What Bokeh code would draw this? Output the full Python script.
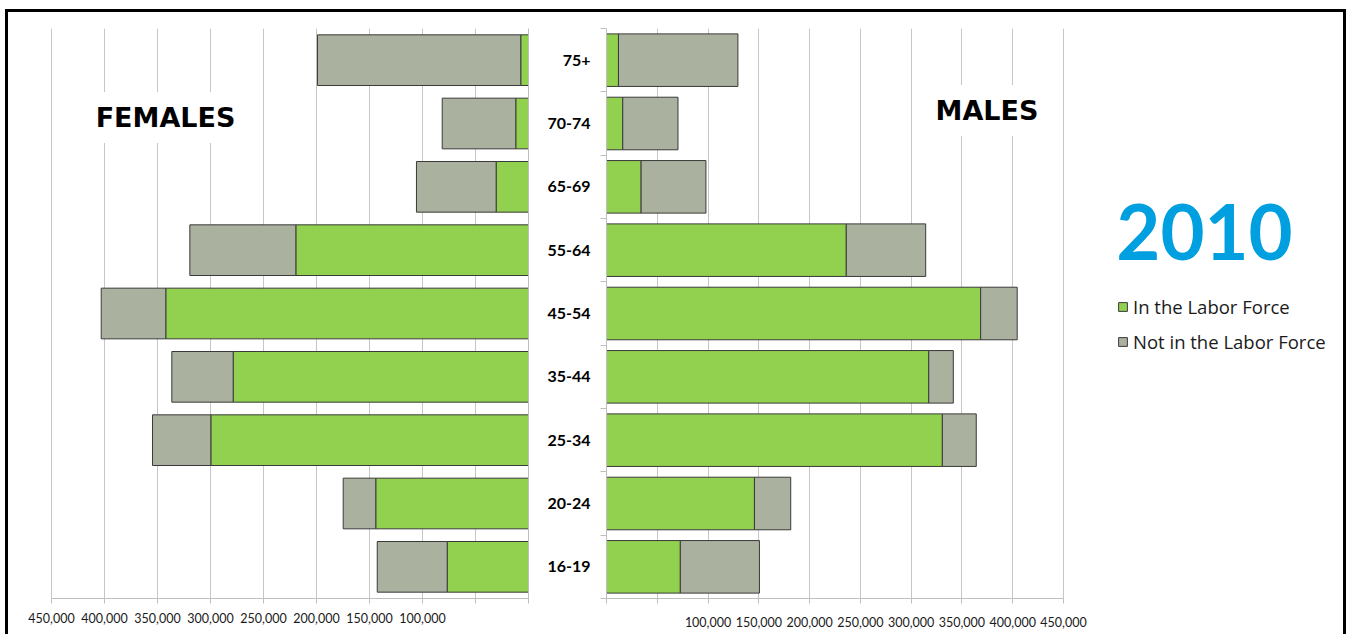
from bokeh.plotting import figure
from bokeh.layouts import row
from bokeh.models import ColumnDataSource, Range1d, FixedTicker, Label
from bokeh.embed import file_html
from bokeh.resources import INLINE

# Population 16+ by age group and labor-force status, 2010
age_groups = ["16-19", "20-24", "25-34", "35-44", "45-54", "55-64", "65-69", "70-74", "75+"]
female_in_lf = [76700, 144100, 299700, 278600, 342200, 219500, 30500, 12000, 7300]
female_not_lf = [66000, 30700, 55000, 57900, 60900, 100000, 75200, 69400, 191800]
male_in_lf = [72700, 145700, 330700, 317300, 368400, 236100, 34100, 16000, 11800]
male_not_lf = [77900, 35700, 33400, 24200, 36000, 78200, 63800, 54400, 117600]

tick_values = [0, 50000, 100000, 150000, 200000, 250000, 300000, 350000, 400000, 450000]
tick_labels = ["", "", "100,000", "150,000", "200,000", "250,000", "300,000",
               "350,000", "400,000", "450,000"]
series_names = ["In the Labor Force", "Not in the Labor Force"]
year_text = "2010"

GREEN = "#92D050"
GREY = "#AAB19E"
EDGE = "#3A3A3A"
RULE = "#BFBFBF"
GRID = "#C6C6C6"
FONT = "Lato"
HEAD_FONT = "DejaVu Sans"
LEGEND_FONT = "Open Sans"

rows = list(range(1, len(age_groups) + 1))
row_edges = [r - 0.5 for r in rows] + [rows[-1] + 0.5]
y_span = (row_edges[0], row_edges[-1])
x_max = tick_values[-1]

fsrc = ColumnDataSource(dict(row=rows, age=age_groups, inlf=female_in_lf, notlf=female_not_lf))
msrc = ColumnDataSource(dict(row=rows, age=age_groups, inlf=male_in_lf, notlf=male_not_lf))


def style_value_axis(ax, standoff):
    ax.ticker = FixedTicker(ticks=tick_values)
    ax.major_label_overrides = dict(zip(tick_values, tick_labels))
    ax.bounds = (0, x_max)
    ax.major_tick_out = 5
    ax.major_tick_in = 0
    ax.minor_tick_line_color = None
    ax.axis_line_color = RULE
    ax.major_tick_line_color = RULE
    ax.major_label_text_font = FONT
    ax.major_label_text_font_size = "12.5px"
    ax.major_label_text_color = "#1a1a1a"
    ax.major_label_standoff = standoff


# ---- females (value axis runs right-to-left; frame has a little slack on the left) ----
f_frame_px = 528 - 46
f_value_px = 528 - 51
fem = figure(width=525, height=622, x_range=Range1d(x_max * f_frame_px / f_value_px, 0),
             y_range=Range1d(*y_span), output_backend="svg", toolbar_location=None,
             y_axis_location="right",
             min_border_left=38, min_border_right=5, min_border_top=14, min_border_bottom=36,
             outline_line_color=None, background_fill_color="white", border_fill_color="white")
style_value_axis(fem.xaxis[0], 9)
fem.yaxis.ticker = FixedTicker(ticks=[])
fem.yaxis.major_label_standoff = 0
fem.yaxis.major_tick_out = 0
fem.yaxis.axis_line_color = RULE
fem.xgrid.grid_line_color = GRID
fem.ygrid.visible = False
fem.hbar_stack(["inlf", "notlf"], y="row", height=0.8, source=fsrc,
               fill_color=[GREEN, GREY], line_color=EDGE, line_width=1)
fem.add_layout(Label(x=119, y=481, x_units="screen", y_units="screen", text="FEMALES",
                     text_font=HEAD_FONT, text_font_style="bold", text_font_size="27px",
                     text_align="center", text_baseline="alphabetic", text_color="black",
                     background_fill_color="white", padding=10))

# ---- males (frame extends right to hold the year and legend) ----
m_frame_px = 1343 - 606
m_value_px = 1063 - 606
male = figure(width=810, height=622, x_range=Range1d(0, x_max * m_frame_px / m_value_px),
              y_range=Range1d(*y_span), output_backend="svg", toolbar_location=None,
              min_border_left=73, min_border_right=0, min_border_top=16, min_border_bottom=32,
              outline_line_color=None, background_fill_color="white", border_fill_color="white")
style_value_axis(male.xaxis[0], 13)
male.xgrid.grid_line_color = GRID
male.ygrid.visible = False

yax = male.yaxis[0]
yax.ticker = FixedTicker(ticks=rows, minor_ticks=row_edges)
yax.major_label_overrides = dict(zip(rows, age_groups))
yax.major_tick_out = 0
yax.major_tick_in = 0
yax.minor_tick_out = 6
yax.minor_tick_in = 0
yax.minor_tick_line_color = RULE
yax.axis_line_color = RULE
yax.major_label_text_font = FONT
yax.major_label_text_font_style = "bold"
yax.major_label_text_font_size = "16px"
yax.major_label_text_color = "black"
yax.major_label_standoff = 10

male.hbar_stack(["inlf", "notlf"], y="row", height=0.83, source=msrc,
                fill_color=[GREEN, GREY], line_color=EDGE, line_width=1,
                legend_label=series_names)

male.add_layout(Label(x=380.5, y=488, x_units="screen", y_units="screen", text="MALES",
                      text_font=HEAD_FONT, text_font_style="bold", text_font_size="27px",
                      text_align="center", text_baseline="alphabetic", text_color="black",
                      background_fill_color="white", padding=10))
male.add_layout(Label(x=598, y=367, x_units="screen", y_units="screen", text=year_text,
                      text_font=FONT, text_font_style="bold", text_font_size="76px",
                      text_align="center", text_baseline="alphabetic", text_color="#009FDF"))

leg = male.legend[0]
leg.location = (511, 244)
leg.border_line_color = None
leg.background_fill_alpha = 0
leg.padding = 0
leg.margin = 0
leg.glyph_width = 11
leg.glyph_height = 11
leg.label_standoff = 5
leg.label_text_font = LEGEND_FONT
leg.label_text_font_size = "18.5px"
leg.label_text_color = "#1a1a1a"
leg.spacing = 10

layout = row(fem, male, margin=(9, 0, 0, 5),
             styles={"border-top": "3px solid #000", "border-left": "3px solid #000",
                     "border-right": "3px solid #000"})

open("out.html", "w").write(file_html(layout, INLINE))
